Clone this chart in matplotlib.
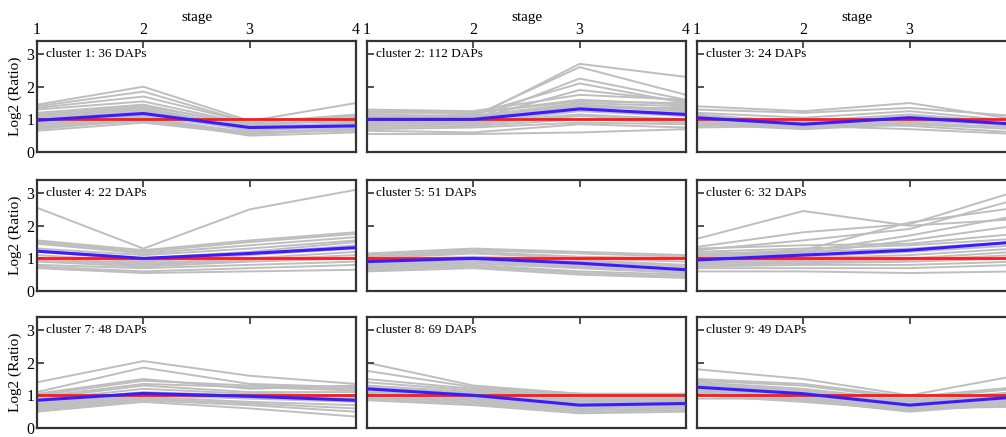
""" Cluster expression profiles (log2 ratio) across four stages, 3x3 grid """
import matplotlib
matplotlib.use("Agg")
import matplotlib.pyplot as plt

plt.rcParams['font.family'] = ['Liberation Serif', 'DejaVu Serif']

stages = [1, 2, 3, 4]
titles = ["cluster 1: 36 DAPs", "cluster 2: 112 DAPs", "cluster 3: 24 DAPs",
          "cluster 4: 22 DAPs", "cluster 5: 51 DAPs", "cluster 6: 32 DAPs",
          "cluster 7: 48 DAPs", "cluster 8: 69 DAPs", "cluster 9: 49 DAPs"]

# individual profiles (grey), a representative subset per cluster
profiles_1 = [[1.45, 2.0, 0.95, 1.5], [1.4, 1.85, 0.9, 1.15], [1.35, 1.7, 0.9, 1.1],
              [1.3, 1.55, 0.85, 1.0], [1.2, 1.45, 0.8, 1.05], [1.15, 1.4, 0.85, 0.95],
              [1.1, 1.35, 0.75, 0.9], [1.05, 1.3, 0.7, 0.9], [1.0, 1.25, 0.8, 0.85],
              [0.95, 1.2, 0.65, 0.8], [0.9, 1.1, 0.7, 0.75], [0.85, 1.05, 0.6, 0.7],
              [0.8, 1.0, 0.55, 0.75], [0.75, 0.95, 0.6, 0.65], [0.7, 1.0, 0.5, 0.6],
              [0.65, 0.9, 0.55, 0.7], [1.0, 1.1, 0.75, 0.8], [0.9, 1.15, 0.7, 0.85]]
profiles_2 = [[0.95, 1.05, 2.7, 2.3], [1.0, 1.1, 2.6, 1.75], [0.9, 1.0, 2.25, 1.6],
              [1.05, 1.15, 2.1, 1.5], [0.95, 1.0, 1.9, 1.55], [1.3, 1.25, 1.75, 1.6],
              [1.2, 1.2, 1.6, 1.45], [1.15, 1.1, 1.5, 1.4], [1.1, 1.05, 1.45, 1.3],
              [1.0, 1.0, 1.4, 1.25], [0.95, 0.95, 1.3, 1.2], [0.9, 0.9, 1.25, 1.1],
              [0.85, 0.9, 1.15, 1.0], [0.8, 0.85, 1.1, 0.95], [0.75, 0.8, 1.0, 0.9],
              [0.7, 0.75, 0.9, 0.85], [0.65, 0.6, 0.85, 0.75], [0.55, 0.55, 0.6, 0.7],
              [1.25, 1.2, 1.55, 1.5], [1.05, 1.0, 1.35, 1.35]]
profiles_3 = [[1.4, 1.25, 1.5, 1.0], [1.3, 1.2, 1.35, 1.1], [1.2, 1.05, 1.25, 0.95],
              [1.1, 0.95, 1.15, 0.9], [1.05, 0.9, 1.05, 0.85], [1.0, 0.85, 1.0, 0.8],
              [0.95, 0.8, 0.95, 0.85], [0.9, 0.75, 0.9, 0.75], [0.85, 0.7, 0.85, 0.7],
              [0.8, 0.85, 0.8, 0.6], [0.75, 0.8, 0.7, 0.55], [1.15, 0.9, 1.1, 0.9]]
profiles_4 = [[2.55, 1.3, 2.5, 3.1], [1.55, 1.25, 1.55, 1.8], [1.5, 1.2, 1.5, 1.75],
              [1.45, 1.15, 1.4, 1.65], [1.3, 1.1, 1.3, 1.55], [1.25, 1.0, 1.2, 1.5],
              [1.2, 0.95, 1.15, 1.4], [1.1, 0.9, 1.1, 1.3], [1.0, 0.85, 1.0, 1.2],
              [0.95, 0.8, 0.95, 1.1], [0.9, 0.75, 0.9, 1.0], [0.8, 0.7, 0.8, 0.9],
              [0.75, 0.6, 0.7, 0.8], [0.7, 0.55, 0.6, 0.65]]
profiles_5 = [[1.15, 1.3, 1.2, 1.1], [1.1, 1.25, 1.15, 1.05], [1.05, 1.2, 1.05, 1.0],
              [1.0, 1.15, 1.0, 0.9], [0.95, 1.05, 0.95, 0.8], [0.9, 1.0, 0.9, 0.75],
              [0.85, 0.95, 0.8, 0.7], [0.8, 0.9, 0.75, 0.6], [0.75, 0.85, 0.7, 0.55],
              [0.7, 0.8, 0.6, 0.5], [0.65, 0.75, 0.55, 0.45], [0.6, 0.7, 0.5, 0.4]]
profiles_6 = [[1.6, 2.45, 2.0, 2.2], [1.35, 1.8, 2.05, 3.05], [1.25, 1.55, 1.9, 2.8],
              [1.1, 1.25, 2.1, 2.55], [1.05, 1.2, 1.7, 2.3], [1.0, 1.15, 1.55, 2.0],
              [1.3, 1.4, 1.45, 1.75], [1.2, 1.3, 1.4, 1.6], [1.15, 1.2, 1.3, 1.5],
              [1.0, 1.05, 1.2, 1.4], [0.95, 1.0, 1.1, 1.3], [0.9, 0.95, 1.0, 1.2],
              [0.85, 0.9, 0.95, 1.1], [0.8, 0.85, 0.9, 1.0], [0.75, 0.8, 0.8, 0.9],
              [0.7, 0.7, 0.7, 0.8], [0.6, 0.6, 0.55, 0.6]]
profiles_7 = [[1.4, 2.05, 1.6, 1.35], [1.1, 1.85, 1.35, 1.25], [1.05, 1.5, 1.2, 1.3],
              [1.0, 1.45, 1.3, 1.2], [0.95, 1.35, 1.25, 1.15], [0.9, 1.3, 1.1, 1.1],
              [0.85, 1.2, 1.05, 1.0], [0.8, 1.1, 1.0, 0.95], [0.75, 1.05, 0.95, 0.9],
              [0.7, 1.0, 0.9, 0.8], [0.65, 0.95, 0.8, 0.7], [0.6, 0.9, 0.75, 0.6],
              [0.55, 0.85, 0.7, 0.5], [0.5, 0.8, 0.6, 0.35]]
profiles_8 = [[2.0, 1.3, 1.05, 1.05], [1.75, 1.25, 1.05, 1.0], [1.5, 1.2, 1.0, 0.95],
              [1.4, 1.15, 0.95, 0.9], [1.3, 1.1, 0.9, 0.85], [1.25, 1.05, 0.85, 0.8],
              [1.2, 1.0, 0.8, 0.8], [1.15, 0.95, 0.75, 0.75], [1.1, 0.95, 0.7, 0.7],
              [1.05, 0.9, 0.65, 0.7], [1.0, 0.85, 0.6, 0.65], [0.95, 0.8, 0.55, 0.6],
              [0.9, 0.75, 0.5, 0.55], [0.85, 0.7, 0.45, 0.5]]
profiles_9 = [[1.8, 1.5, 1.0, 1.6], [1.5, 1.35, 0.95, 1.25], [1.45, 1.3, 0.9, 1.2],
              [1.4, 1.2, 0.85, 1.1], [1.35, 1.15, 0.8, 1.05], [1.3, 1.1, 0.75, 1.0],
              [1.25, 1.05, 0.7, 0.95], [1.2, 1.0, 0.65, 0.9], [1.15, 0.95, 0.6, 0.85],
              [1.1, 0.9, 0.55, 0.8], [1.05, 0.85, 0.5, 0.75], [1.0, 0.8, 0.55, 0.7],
              [0.9, 0.9, 0.6, 0.65]]

# cluster means (blue)
means = [[0.97, 1.18, 0.75, 0.8], [1.0, 1.0, 1.32, 1.15], [1.05, 0.85, 1.05, 0.85],
         [1.22, 1.0, 1.15, 1.33], [0.9, 1.0, 0.85, 0.65], [0.95, 1.1, 1.25, 1.5],
         [0.85, 1.06, 0.97, 0.85], [1.2, 1.0, 0.7, 0.75], [1.25, 1.05, 0.7, 0.95]]

reference_level = 1.0
y_ticks = [0, 1, 2, 3]

all_profiles = [profiles_1, profiles_2, profiles_3, profiles_4, profiles_5,
                profiles_6, profiles_7, profiles_8, profiles_9]

W, H = 1006, 437
fig = plt.figure(figsize=(W / 100, H / 100), dpi=100)

col_left = [37, 367, 697]
row_top = [41, 180, 317]
panel_w, panel_h = 319, 111

for k in range(9):
    r, c = divmod(k, 3)
    ax = fig.add_axes([col_left[c] / W, 1 - (row_top[r] + panel_h) / H, panel_w / W, panel_h / H])

    for prof in all_profiles[k]:
        ax.plot(stages, prof, color='#bebebe', lw=1.4, zorder=1)
    ax.axhline(reference_level, color='#ff1a1a', lw=2.0, zorder=2)
    ax.plot(stages, means[k], color='#3c1cff', lw=2.2, zorder=3)

    ax.set_xlim(1, 4)
    ax.set_ylim(0, 3.4)

    for side in ax.spines.values():
        side.set_color('#333333')
        side.set_linewidth(1.6)

    ax.xaxis.tick_top()
    ax.set_xticks(stages)
    ax.set_yticks(y_ticks)
    ax.tick_params(axis='both', direction='in', length=5, width=1.2, color='#333333',
                   labelsize=11.5, pad=2)
    if r == 0:
        # the last column runs past the picture's right edge, its "4" is not shown
        ax.set_xticklabels([str(s) if not (c == 2 and s == 4) else '' for s in stages])
        ax.set_xlabel('stage', fontsize=11)
        ax.xaxis.set_label_position('top')
        ax.xaxis.labelpad = 1
    else:
        ax.set_xticklabels([])
    if c == 0:
        ax.set_yticklabels([str(t) for t in y_ticks])
        ax.set_ylabel('Log2 (Ratio)', fontsize=11, labelpad=3)
    else:
        ax.set_yticklabels([])

    ax.text(1.08, 3.0, titles[k], fontsize=9.5, va='center', ha='left')

fig.savefig('out.png', dpi=100)
